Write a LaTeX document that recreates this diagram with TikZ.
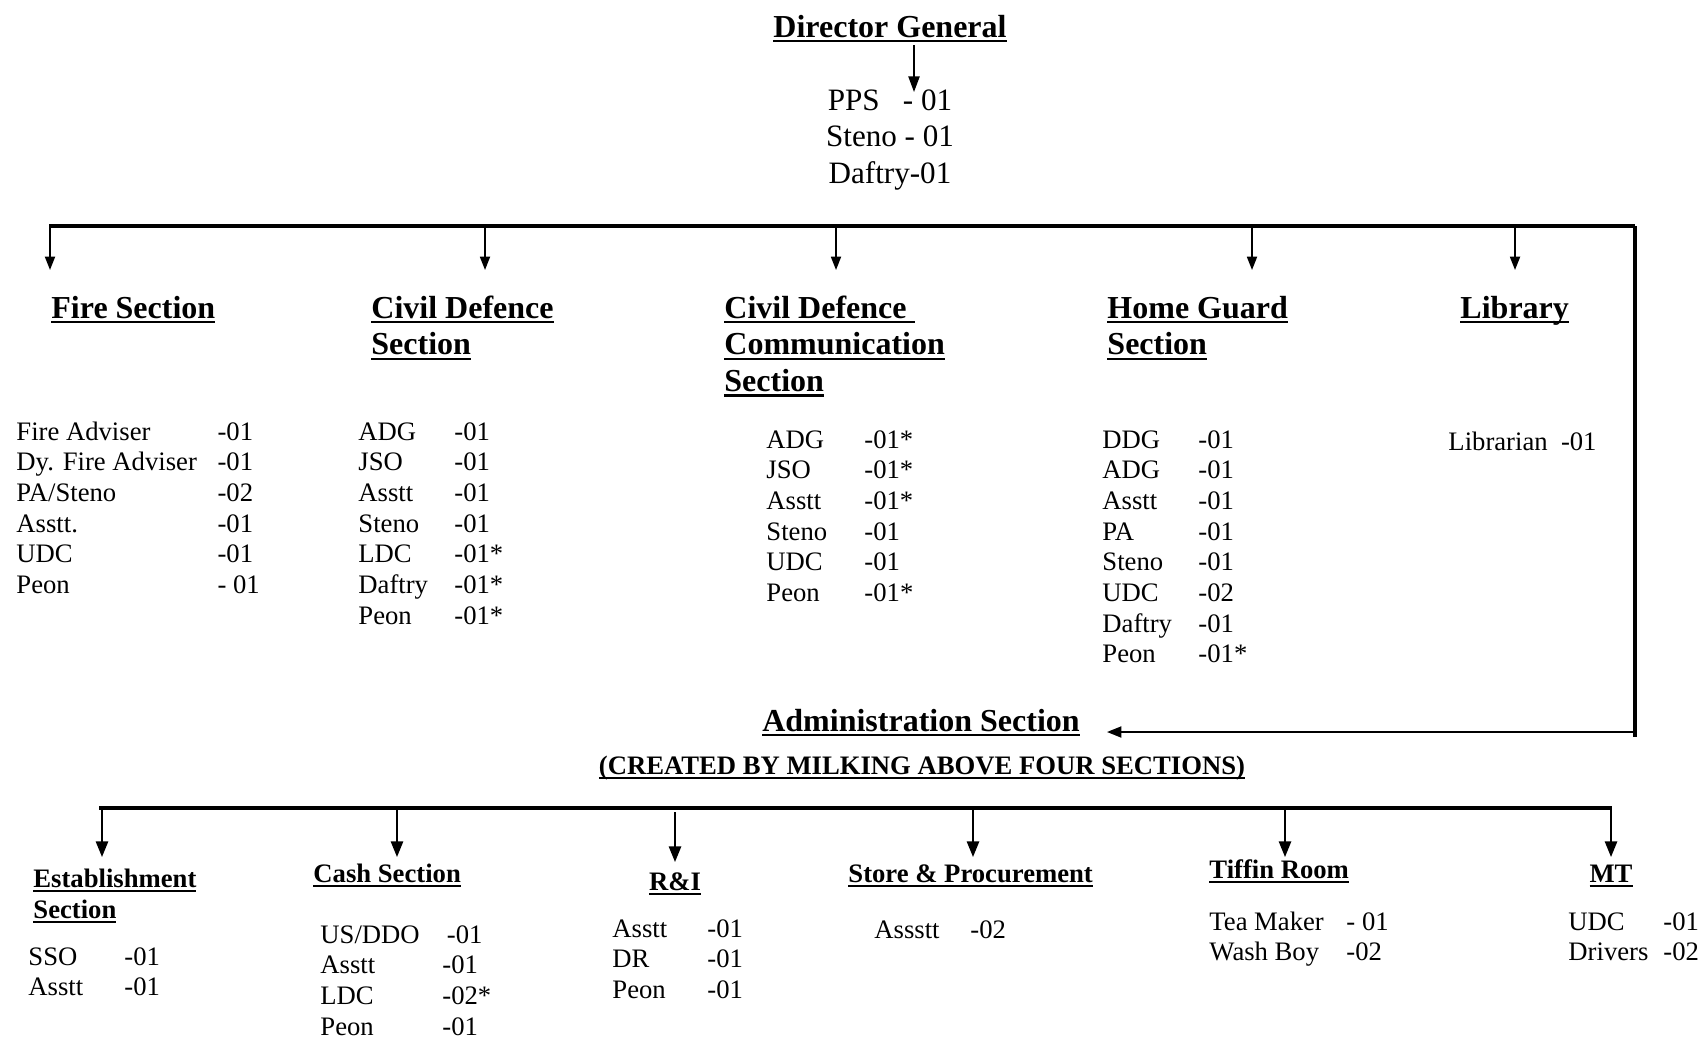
\documentclass[tikz,border=0pt]{standalone}
\usepackage{fontspec}
\setmainfont{Liberation Serif}
\usetikzlibrary{arrows.meta, positioning}

% thick underline for headings
\newcommand{\hdline}[1]{\setbox0=\hbox{#1}\rlap{\rule[-2.4pt]{\wd0}{1.2pt}}\box0}

\begin{document}
\begin{tikzpicture}[
    x=0.45pt, y=-0.45pt,
    head/.style={font=\fontsize{14.4}{16.6}\selectfont\bfseries, inner sep=0pt, anchor=base west},
    subhead/.style={font=\fontsize{12}{14}\selectfont\bfseries, inner sep=0pt, anchor=base west},
    staff/.style={font=\fontsize{12}{13.8}\selectfont, inner sep=0pt, anchor=base west},
    bus/.style={line width=2pt},
    drop/.style={line width=0.8pt, -{Triangle[width=4.5pt,length=6pt]}},
    subdrop/.style={line width=0.8pt, -{Triangle[width=5.5pt,length=7pt]}}
]
\useasboundingbox (0,0) rectangle (1702,1039);

% Director General
\node[head, anchor=base] (dg) at (890,37) {\hdline{Director General}};
\node[font=\fontsize{14}{16.5}\selectfont, inner sep=0pt, anchor=base] (dgstaff) at (890,110)
    {\begin{tabular}[t]{@{}c@{}}PPS\ \ \ - 01\\Steno - 01\\Daftry-01\end{tabular}};
\coordinate (dg-out) at (914,45);
\coordinate (dg-in) at (914,92);
\draw[drop, -{Triangle[width=5pt,length=7pt]}] (dg-out) -- (dg-in);

% Top bus
\coordinate (bus-left) at (49,226);
\coordinate (bus-right) at (1635,226);
\coordinate (bus-end) at (1635,737);
\draw[bus] (bus-left) -- (bus-right);
\draw[line width=1.7pt] (bus-right) -- (bus-end);

\coordinate (fire-in) at (50,270);
\coordinate (cd-in) at (485,270);
\coordinate (cdc-in) at (836,270);
\coordinate (hg-in) at (1252,270);
\coordinate (lib-in) at (1515,270);
\draw[drop] (fire-in |- bus-left) -- (fire-in);
\draw[drop] (cd-in |- bus-left) -- (cd-in);
\draw[drop] (cdc-in |- bus-left) -- (cdc-in);
\draw[drop] (hg-in |- bus-left) -- (hg-in);
\draw[drop] (lib-in |- bus-left) -- (lib-in);

% Fire Section
\node[head] (fire) at (51,318) {\hdline{Fire Section}};
\node[staff] (fire-staff) at (16,440) {\begin{tabular}[t]{@{}p{90.5pt}@{}l@{}}
    Fire Adviser & -01\\ Dy. Fire Adviser & -01\\ PA/Steno & -02\\
    Asstt. & -01\\ UDC & -01\\ Peon & - 01\end{tabular}};

% Civil Defence Section
\node[head] (cd) at (371,318) {\begin{tabular}[t]{@{}l@{}}\hdline{Civil Defence}\\\hdline{Section}\end{tabular}};
\node[staff] (cd-staff) at (358,440) {\begin{tabular}[t]{@{}p{43.2pt}@{}l@{}}
    ADG & -01\\ JSO & -01\\ Asstt & -01\\ Steno & -01\\
    LDC & -01*\\ Daftry & -01*\\ Peon & -01*\end{tabular}};

% Civil Defence Communication Section
\node[head] (cdc) at (724,318) {\begin{tabular}[t]{@{}l@{}}\hdline{Civil Defence\ }\\\hdline{Communication}\\\hdline{Section}\end{tabular}};
\node[staff] (cdc-staff) at (766,448) {\begin{tabular}[t]{@{}p{44.1pt}@{}l@{}}
    ADG & -01*\\ JSO & -01*\\ Asstt & -01*\\ Steno & -01\\
    UDC & -01\\ Peon & -01*\end{tabular}};

% Home Guard Section
\node[head] (hg) at (1107,318) {\begin{tabular}[t]{@{}l@{}}\hdline{Home Guard}\\\hdline{Section}\end{tabular}};
\node[staff] (hg-staff) at (1102,448) {\begin{tabular}[t]{@{}p{43.2pt}@{}l@{}}
    DDG & -01\\ ADG & -01\\ Asstt & -01\\ PA & -01\\ Steno & -01\\
    UDC & -02\\ Daftry & -01\\ Peon & -01*\end{tabular}};

% Library
\node[head] (lib) at (1460,318) {\hdline{Library}};
\node[staff] (lib-staff) at (1448,450) {Librarian\ \ -01};

% Administration Section
\node[head, anchor=base] (admin) at (921,731) {\hdline{Administration Section}};
\node[subhead, anchor=base] (admin-note) at (922,774) {\hdline{(CREATED BY MILKING ABOVE FOUR SECTIONS)}};
\coordinate (admin-in) at (1107,732);
\draw[line width=0.8pt, -{Triangle[width=5pt,length=6.5pt]}] (bus-end |- admin-in) -- (admin-in);

% Bottom bus
\coordinate (sub-left) at (99,808);
\coordinate (sub-right) at (1612,808);
\draw[bus] (sub-left) -- (sub-right);

\coordinate (estab-in) at (102,857);
\coordinate (cash-in) at (397,857);
\coordinate (ri-in) at (675,862);
\coordinate (store-in) at (973,857);
\coordinate (tiffin-in) at (1285,857);
\coordinate (mt-in) at (1611,857);
\draw[subdrop] (estab-in |- sub-left) -- (estab-in);
\draw[subdrop] (cash-in |- sub-left) -- (cash-in);
\draw[subdrop] ([yshift=-2pt]ri-in |- sub-left) -- (ri-in);
\draw[subdrop] (store-in |- sub-left) -- (store-in);
\draw[subdrop] (tiffin-in |- sub-left) -- (tiffin-in);
\draw[subdrop] (mt-in |- sub-left) -- (mt-in);

% Establishment Section
\node[subhead] (estab) at (33,887) {\begin{tabular}[t]{@{}l@{}}\hdline{Establishment}\\\hdline{Section}\end{tabular}};
\node[staff] (estab-staff) at (28,965) {\begin{tabular}[t]{@{}p{43.2pt}@{}l@{}}
    SSO & -01\\ Asstt & -01\end{tabular}};

% Cash Section
\node[subhead] (cash) at (313,882) {\hdline{Cash Section}};
\node[staff] (cash-staff) at (320,943) {\begin{tabular}[t]{@{}p{54.9pt}@{}l@{}}
    US/DDO & \,-01\\ Asstt & -01\\ LDC & -02*\\ Peon & -01\end{tabular}};

% R&I
\node[subhead, anchor=base] (ri) at (675,890) {\hdline{R\&I}};
\node[staff] (ri-staff) at (612,937) {\begin{tabular}[t]{@{}p{42.75pt}@{}l@{}}
    Asstt & -01\\ DR & -01\\ Peon & -01\end{tabular}};

% Store & Procurement
\node[subhead] (store) at (848,882) {\hdline{Store \& Procurement}};
\node[staff] (store-staff) at (874,938) {\begin{tabular}[t]{@{}p{43.2pt}@{}l@{}}
    Assstt & -02\end{tabular}};

% Tiffin Room
\node[subhead] (tiffin) at (1209,878) {\hdline{Tiffin Room}};
\node[staff] (tiffin-staff) at (1209,930) {\begin{tabular}[t]{@{}p{61.65pt}@{}l@{}}
    Tea Maker & - 01\\ Wash Boy & -02\end{tabular}};

% MT
\node[subhead, anchor=base] (mt) at (1611,882) {\hdline{MT}};
\node[staff] (mt-staff) at (1568,930) {\begin{tabular}[t]{@{}p{42.75pt}@{}l@{}}
    UDC & -01\\ Drivers & -02\end{tabular}};
\end{tikzpicture}
\end{document}
